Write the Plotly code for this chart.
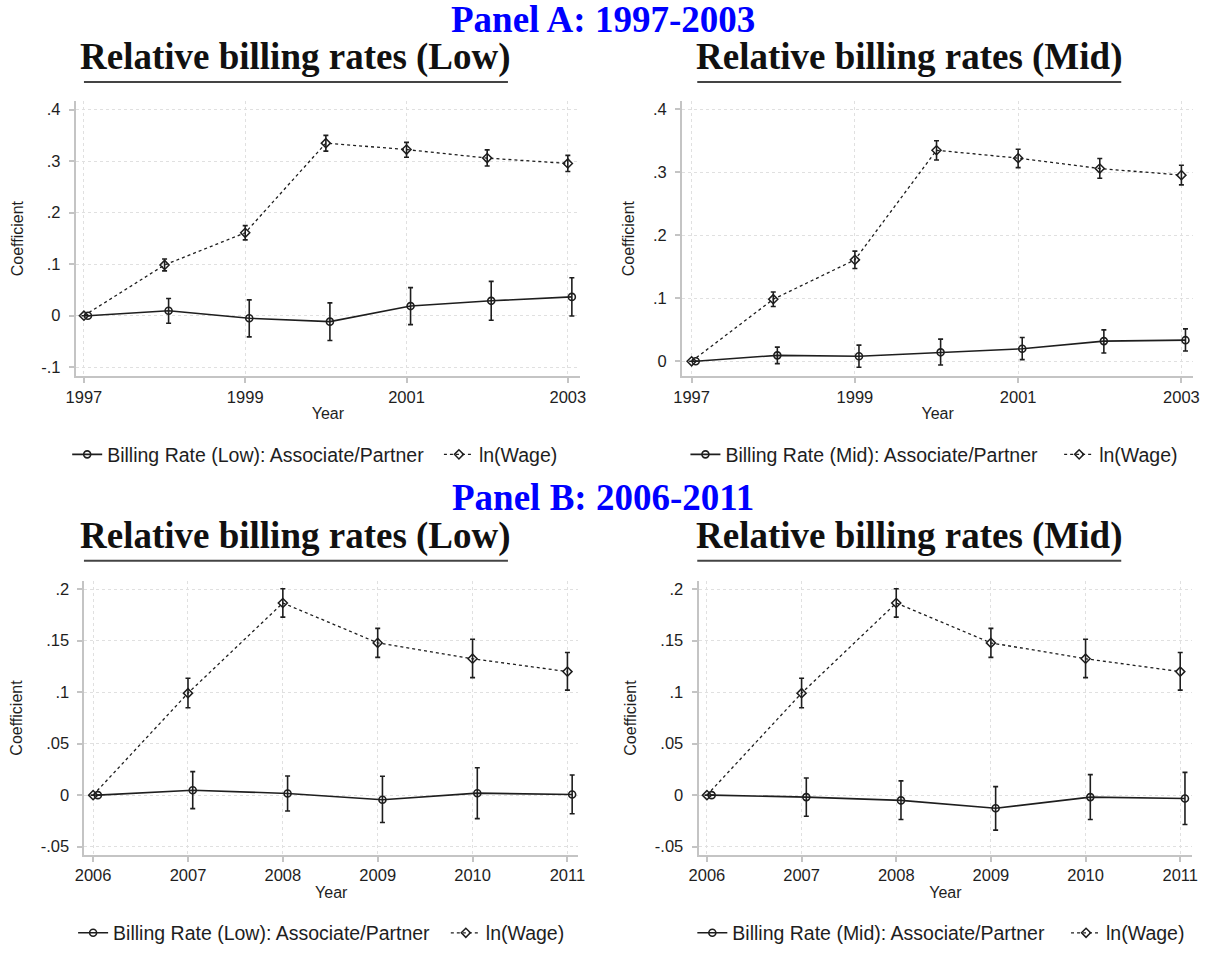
import plotly.graph_objects as go

# ---------------- data ----------------
years_a = [1997, 1998, 1999, 2000, 2001, 2002, 2003]
years_b = [2006, 2007, 2008, 2009, 2010, 2011]

# ln(Wage) coefficients and 95% CI, 1997-2003 (base year has no CI)
wage_a = [0, 0.0985, 0.161, 0.335, 0.3225, 0.306, 0.2955]
wage_a_lo = [None, 0.087, 0.1473, 0.3195, 0.3075, 0.2905, 0.280]
wage_a_hi = [None, 0.110, 0.1748, 0.350, 0.3365, 0.322, 0.3113]

# Billing rate (Low) associate/partner, 1997-2003
bill_low_a = [0, 0.0096, -0.005, -0.0115, 0.0187, 0.0289, 0.0365]
bill_low_a_lo = [None, -0.0147, -0.041, -0.048, -0.0173, -0.0088, -0.0006]
bill_low_a_hi = [None, 0.0334, 0.0308, 0.025, 0.0546, 0.0667, 0.0738]

# Billing rate (Mid) associate/partner, 1997-2003
bill_mid_a = [0, 0.0094, 0.0079, 0.0142, 0.0199, 0.032, 0.0335]
bill_mid_a_lo = [None, -0.0037, -0.0094, -0.0058, 0.0026, 0.0131, 0.0162]
bill_mid_a_hi = [None, 0.0225, 0.0257, 0.0351, 0.0377, 0.0498, 0.0514]

# ln(Wage), 2006-2011
wage_b = [0, 0.099, 0.1865, 0.1478, 0.1324, 0.1199]
wage_b_lo = [None, 0.0849, 0.1728, 0.1337, 0.1141, 0.1019]
wage_b_hi = [None, 0.1135, 0.2003, 0.1619, 0.1513, 0.1385]

# Billing rate (Low), 2006-2011
bill_low_b = [0, 0.0048, 0.0016, -0.0045, 0.0019, 0.0006]
bill_low_b_lo = [None, -0.0131, -0.0154, -0.0266, -0.0228, -0.018]
bill_low_b_hi = [None, 0.0228, 0.0186, 0.0183, 0.0266, 0.0196]

# Billing rate (Mid), 2006-2011
bill_mid_b = [0, -0.0019, -0.0051, -0.0128, -0.0019, -0.0032]
bill_mid_b_lo = [None, -0.0205, -0.0237, -0.034, -0.0237, -0.0285]
bill_mid_b_hi = [None, 0.0167, 0.0138, 0.0083, 0.0199, 0.0221]

# axis ticks
xticks_a = [1997, 1999, 2001, 2003]
xticks_b = [2006, 2007, 2008, 2009, 2010, 2011]
yticks_a_low = [0.4, 0.3, 0.2, 0.1, 0, -0.1]
yticks_a_low_text = [".4", ".3", ".2", ".1", "0", "-.1"]
yticks_a_mid = [0.4, 0.3, 0.2, 0.1, 0]
yticks_a_mid_text = [".4", ".3", ".2", ".1", "0"]
yticks_b = [0.2, 0.15, 0.1, 0.05, 0, -0.05]
yticks_b_text = [".2", ".15", ".1", ".05", "0", "-.05"]

# ---------------- styling ----------------
W, H = 1217, 953
SANS = "Liberation Sans, Arial, sans-serif"
SERIF = "Liberation Serif, Times New Roman, serif"
INK = "#1e1e1e"
AXIS_GRAY = "#c4c4c4"
GRID_GRAY = "#e0e0e0"
X_SHIFT = 0.05  # billing series nudged right so it does not sit on ln(Wage)


def px_x(p):
    return p / W


def px_y(p):
    return 1 - p / H


def err(est, lo, hi):
    up = [None if h is None else h - e for e, h in zip(est, hi)]
    dn = [None if l is None else e - l for e, l in zip(est, lo)]
    return dict(type="data", symmetric=False, array=up, arrayminus=dn,
                color=INK, thickness=1.6, width=2.5)


fig = go.Figure()

panels = [
    # (years, billing est, lo, hi, billing label, wage est, lo, hi, axis suffix)
    (years_a, bill_low_a, bill_low_a_lo, bill_low_a_hi, "Billing Rate (Low): Associate/Partner",
     wage_a, wage_a_lo, wage_a_hi, ""),
    (years_a, bill_mid_a, bill_mid_a_lo, bill_mid_a_hi, "Billing Rate (Mid): Associate/Partner",
     wage_a, wage_a_lo, wage_a_hi, "2"),
    (years_b, bill_low_b, bill_low_b_lo, bill_low_b_hi, "Billing Rate (Low): Associate/Partner",
     wage_b, wage_b_lo, wage_b_hi, "3"),
    (years_b, bill_mid_b, bill_mid_b_lo, bill_mid_b_hi, "Billing Rate (Mid): Associate/Partner",
     wage_b, wage_b_lo, wage_b_hi, "4"),
]

# legend entry anchors (left x px, centre y px) per panel: billing item, wage item
legend_pos = [
    ((58, 457), (435, 457)),
    ((685, 457), (1064, 457)),
    ((64, 940), (442, 940)),
    ((692, 940), (1071, 940)),
]

legend_cfg = {}
for i, (yrs, b, blo, bhi, blab, w, wlo, whi, sfx) in enumerate(panels):
    xa = "x" + sfx
    ya = "y" + sfx
    lg_b = "legend" if i == 0 else f"legend{2 * i + 1}"
    lg_w = f"legend{2 * i + 2}"
    fig.add_trace(go.Scatter(
        x=[y + X_SHIFT for y in yrs], y=b, xaxis=xa, yaxis=ya,
        mode="lines+markers", name=blab, legend=lg_b,
        line=dict(color=INK, width=1.6),
        marker=dict(symbol="circle-open", size=7, color=INK, line=dict(width=1.6)),
        error_y=err(b, blo, bhi),
    ))
    fig.add_trace(go.Scatter(
        x=yrs, y=w, xaxis=xa, yaxis=ya,
        mode="lines+markers", name="ln(Wage)", legend=lg_w,
        line=dict(color=INK, width=1.3, dash="dot"),
        marker=dict(symbol="diamond-open", size=7, color=INK, line=dict(width=1.5)),
        error_y=err(w, wlo, whi),
    ))
    for lg, (lx, ly) in zip((lg_b, lg_w), legend_pos[i]):
        legend_cfg[lg] = dict(
            x=px_x(lx), y=px_y(ly), xanchor="left", yanchor="middle",
            orientation="h", bgcolor="rgba(0,0,0,0)",
            font=dict(family=SANS, size=19.5, color=INK),
        )

# plot-area geometry in pixels: (x0, x1, y_top, y_bottom)
geo = [
    (66.7, 578, 100, 377.7),
    (681.6, 1200, 100, 377.7),
    (75.5, 576, 585, 860.7),
    (698.3, 1199, 585, 860.7),
]
xranges = [[1996.899, 2003.150], [1996.883, 2003.145], [2005.9085, 2011.111], [2005.9115, 2011.127]]
yranges = [[-0.1173, 0.4167], [-0.0236, 0.4131], [-0.0577, 0.2074], [-0.0577, 0.2074]]
xtick_sets = [xticks_a, xticks_a, xticks_b, xticks_b]
ytick_sets = [(yticks_a_low, yticks_a_low_text), (yticks_a_mid, yticks_a_mid_text),
              (yticks_b, yticks_b_text), (yticks_b, yticks_b_text)]

axis_common = dict(
    showline=True, linecolor=AXIS_GRAY, linewidth=2,
    ticks="outside", ticklen=5, tickwidth=1.5, tickcolor=AXIS_GRAY,
    showgrid=True, gridcolor=GRID_GRAY, gridwidth=1, griddash="dot",
    zeroline=False, tickfont=dict(family=SANS, size=16.5, color=INK),
    fixedrange=True,
)

layout_axes = {}
for i, sfx in enumerate(["", "2", "3", "4"]):
    x0, x1, yt, yb = geo[i]
    yv, yt_text = ytick_sets[i]
    layout_axes["xaxis" + sfx] = dict(
        axis_common, domain=[px_x(x0), px_x(x1)], range=xranges[i],
        anchor="y" + sfx, tickmode="array", tickvals=xtick_sets[i],
        ticktext=[str(t) for t in xtick_sets[i]],
        title=dict(text="Year", font=dict(family=SANS, size=16, color=INK), standoff=3),
    )
    layout_axes["yaxis" + sfx] = dict(
        axis_common, domain=[px_y(yb), px_y(yt)], range=yranges[i],
        anchor="x" + sfx, tickmode="array", tickvals=yv, ticktext=yt_text,
        ticklabelstandoff=5,
        title=dict(text="Coefficient", font=dict(family=SANS, size=16, color=INK), standoff=14),
    )

fig.update_layout(
    width=W, height=H,
    margin=dict(l=0, r=0, t=0, b=0),
    paper_bgcolor="white", plot_bgcolor="white",
    showlegend=True,
    **layout_axes,
    **legend_cfg,
)

# panel headers and per-graph titles with rule underneath
headers = [("Panel A: 1997-2003", 601, 18), ("Panel B: 2006-2011", 601, 500)]
for text, cx, cy in headers:
    fig.add_annotation(text=text, x=px_x(cx), y=px_y(cy), xref="paper", yref="paper",
                       xanchor="center", yanchor="middle", showarrow=False,
                       font=dict(family=SERIF, size=37, color="#0000ff", weight="bold"))

titles = [
    ("Relative billing rates (Low)", 75, 505, 56, 80.7),
    ("Relative billing rates (Mid)", 697, 1127, 56, 80.7),
    ("Relative billing rates (Low)", 75, 505, 539.5, 564),
    ("Relative billing rates (Mid)", 697, 1127, 539.5, 564),
]
for text, lx, rx, cy, uy in titles:
    fig.add_annotation(text=text, x=px_x((lx + rx) / 2), y=px_y(cy), xref="paper", yref="paper",
                       xanchor="center", yanchor="middle", showarrow=False,
                       font=dict(family=SERIF, size=37, color="#111111", weight="bold"))
    fig.add_shape(type="line", xref="paper", yref="paper",
                  x0=px_x(lx), x1=px_x(rx), y0=px_y(uy), y1=px_y(uy),
                  line=dict(color="#444444", width=2))

fig.write_html("out.html")
